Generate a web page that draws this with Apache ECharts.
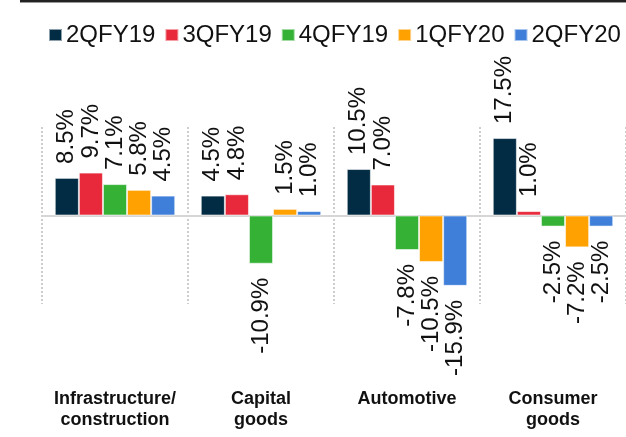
<!DOCTYPE html>
<html>
<head>
<meta charset="utf-8">
<script src="https://cdn.jsdelivr.net/npm/echarts@6/dist/echarts.min.js"></script>
<style>
  html, body { margin: 0; padding: 0; background: #fff; }
  #chart { width: 626px; height: 437px; }
</style>
</head>
<body>
<div id="chart"></div>
<script>
// sectors and quarterly growth (%)
const categories = ['Infrastructure/\nconstruction', 'Capital\ngoods', 'Automotive', 'Consumer\ngoods']
const quarters = ['2QFY19', '3QFY19', '4QFY19', '1QFY20', '2QFY20']
const q2fy19 = [8.5, 4.5, 10.5, 17.5]
const q3fy19 = [9.7, 4.8, 7.0, 1.0]
const q4fy19 = [7.1, -10.9, -7.8, -2.5]
const q1fy20 = [5.8, 1.5, -10.5, -7.2]
const q2fy20 = [4.5, 1.0, -15.9, -2.5]
const colors = ['#022b44', '#e8293b', '#35b236', '#ffa100', '#3f7fda']

const chart = echarts.init(document.getElementById('chart'))

const font = 'Liberation Sans, Arial, sans-serif'
const posLabel = {
  show: true, position: 'top', rotate: 90, align: 'left', verticalAlign: 'middle',
  distance: 14, fontSize: 24, color: '#111', fontFamily: font,
  formatter: p => p.value.toFixed(1) + '%'
}
const negLabel = Object.assign({}, posLabel, { position: 'bottom', align: 'right' })

function makeSeries(name, values, i) {
  return {
    name: name,
    type: 'bar',
    xAxisIndex: 0,
    barGap: '0%',
    barCategoryGap: '17.5%',
    itemStyle: { color: colors[i], borderColor: 'rgba(255,255,255,0.55)', borderWidth: 1 },
    data: values.map(v => ({ value: v, label: v >= 0 ? posLabel : negLabel })),
    animation: false
  }
}

const allValues = [q2fy19, q3fy19, q4fy19, q1fy20, q2fy20]

chart.setOption({
  backgroundColor: '#fff',
  color: colors,
  graphic: [
    { type: 'rect', shape: { x: 20, y: 0, width: 606, height: 2 }, style: { fill: '#222' } },
    { type: 'rect', shape: { x: 20, y: 2, width: 606, height: 1 }, style: { fill: '#999' } }
  ],
  legend: {
    data: quarters,
    left: 48,
    top: 23,
    width: 640,
    padding: 0,
    itemWidth: 13,
    itemHeight: 12,
    itemGap: 9,
    icon: 'rect',
    textStyle: { fontSize: 24, color: '#111', fontFamily: font, padding: [0, 0, 0, -1] }
  },
  grid: { left: 42, width: 589, top: 127, height: 177, containLabel: false },
  xAxis: [
    {
      type: 'category',
      data: categories,
      position: 'bottom',
      axisLine: { show: true, onZero: true, lineStyle: { color: '#d6d6d6', width: 2 } },
      axisTick: { show: false },
      axisLabel: { show: false },
      splitLine: { show: true, interval: 0, lineStyle: { color: '#bdbdbd', width: 1.5, type: [2, 2] } }
    },
    {
      type: 'category',
      data: categories,
      position: 'bottom',
      axisLine: { show: false, onZero: false },
      axisTick: { show: false },
      splitLine: { show: false },
      axisLabel: {
        interval: 0, margin: 85, fontSize: 18, fontWeight: 'bold', color: '#111',
        fontFamily: font, lineHeight: 21, verticalAlign: 'top'
      }
    }
  ],
  yAxis: {
    type: 'value',
    min: -20,
    max: 20,
    interval: 20,
    show: false,
    splitLine: { show: false }
  },
  series: quarters.map((q, i) => makeSeries(q, allValues[i], i))
})
</script>
</body>
</html>
